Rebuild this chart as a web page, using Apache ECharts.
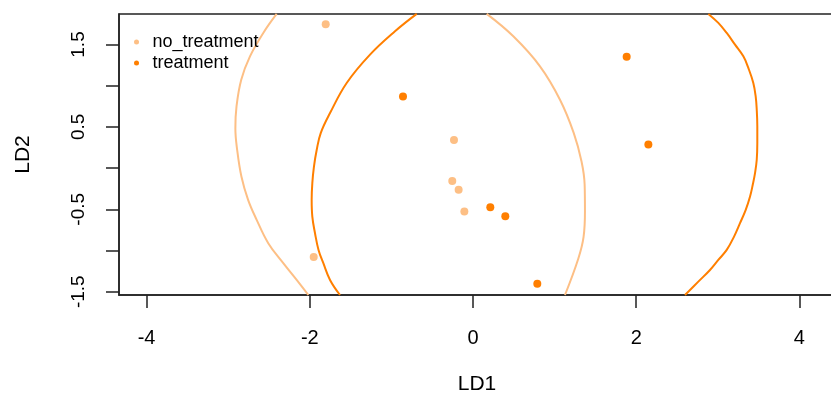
<!DOCTYPE html>
<html>
<head>
<meta charset="utf-8">
<script src="https://cdn.jsdelivr.net/npm/echarts@6/dist/echarts.min.js"></script>
<style>
html,body{margin:0;padding:0;background:#fff;}
#c{width:831px;height:405px;}
</style>
</head>
<body>
<div id="c"></div>
<script>
// ---- data ----
var seriesNames = ['no_treatment', 'treatment'];
var noTreatmentPoints = [[-1.805, 1.745], [-0.233, 0.340], [-0.254, -0.158], [-0.176, -0.264], [-0.106, -0.527], [-1.952, -1.078]];
var treatmentPoints = [[-0.858, 0.870], [0.212, -0.474], [0.396, -0.583], [0.788, -1.402], [1.883, 1.352], [2.149, 0.287]];

// ellipse arcs (visible parts) for each group
var noTreatmentEllipseLeft = [[-2.406, 1.871], [-2.570, 1.640], [-2.733, 1.356], [-2.840, 1.073], [-2.898, 0.748], [-2.912, 0.480], [-2.890, 0.222], [-2.838, -0.102], [-2.756, -0.385], [-2.651, -0.628], [-2.509, -0.911], [-2.325, -1.154], [-2.161, -1.357], [-2.018, -1.540]];
var noTreatmentEllipseRight = [[0.168, 1.871], [0.494, 1.599], [0.821, 1.235], [1.066, 0.830], [1.235, 0.425], [1.330, 0.080], [1.368, -0.200], [1.372, -0.520], [1.355, -0.835], [1.290, -1.100], [1.127, -1.540]];
var treatmentEllipseLeft = [[-0.690, 1.871], [-0.956, 1.660], [-1.262, 1.377], [-1.548, 1.033], [-1.752, 0.668], [-1.866, 0.425], [-1.915, 0.222], [-1.949, 0.019], [-1.969, -0.182], [-1.977, -0.385], [-1.969, -0.588], [-1.936, -0.790], [-1.893, -0.993], [-1.835, -1.151], [-1.752, -1.357], [-1.630, -1.540]];
var treatmentEllipseRight = [[2.884, 1.871], [3.006, 1.762], [3.109, 1.640], [3.211, 1.498], [3.313, 1.356], [3.374, 1.215], [3.435, 1.033], [3.464, 0.870], [3.477, 0.708], [3.484, 0.505], [3.484, 0.304], [3.477, 0.101], [3.456, -0.061], [3.428, -0.203], [3.395, -0.345], [3.342, -0.507], [3.272, -0.668], [3.199, -0.831], [3.109, -0.993], [3.006, -1.114], [2.904, -1.236], [2.761, -1.378], [2.598, -1.540]];

var xTickValues = [-4, -2, 0, 2, 4];
var xTickLabels = ['-4', '-2', '0', '2', '4'];
var yTickValues = [-1.5, -1, -0.5, 0, 0.5, 1, 1.5];
var yLabelValues = [-1.5, -0.5, 0.5, 1.5];
var yTickLabels = ['-1.5', '-0.5', '0.5', '1.5'];
var xAxisTitle = 'LD1';
var yAxisTitle = 'LD2';

// ---- styling ----
var lightColor = '#FDBF85';
var darkColor = '#FF7F00';
var font = 'Liberation Sans, Arial, sans-serif';

function curve(name, data, color) {
  return {
    name: name, type: 'line', data: data, showSymbol: false, symbol: 'none',
    smooth: 0.4, clip: true, silent: true, z: 2,
    lineStyle: { color: color, width: 2 }
  };
}

var chart = echarts.init(document.getElementById('c'), null, { renderer: 'canvas' });
chart.setOption({
  animation: false,
  backgroundColor: '#fff',
  grid: {
    left: 119, top: 14, width: 716, height: 281,
    outerBoundsMode: 'none', containLabel: false,
    show: true, borderColor: '#222', borderWidth: 1.5, backgroundColor: 'transparent'
  },
  legend: {
    data: seriesNames,
    orient: 'vertical', left: 129, top: 28,
    icon: 'circle', itemWidth: 22, itemHeight: 5, itemGap: 3,
    textStyle: { fontFamily: font, fontSize: 18, color: '#000' }
  },
  xAxis: {
    type: 'value', min: -4.338, max: 4.436,
    splitLine: { show: false },
    axisLine: { show: true, onZero: false, lineStyle: { color: '#222', width: 1.5 } },
    axisTick: { show: true, length: 13, customValues: xTickValues, lineStyle: { color: '#222', width: 1.5 } },
    axisLabel: {
      customValues: xTickValues, margin: 33, color: '#000', fontFamily: font, fontSize: 20,
      formatter: function (v) { var i = xTickValues.indexOf(v); return i >= 0 ? xTickLabels[i] : ''; }
    },
    name: xAxisTitle, nameLocation: 'middle', nameGap: 79,
    nameTextStyle: { fontFamily: font, fontSize: 21, color: '#000' }
  },
  yAxis: {
    type: 'value', min: -1.54, max: 1.87,
    splitLine: { show: false },
    axisLine: { show: true, onZero: false, lineStyle: { color: '#222', width: 1.5 } },
    axisTick: { show: true, length: 13, customValues: yTickValues, lineStyle: { color: '#222', width: 1.5 } },
    axisLabel: {
      customValues: yLabelValues, rotate: 90, margin: 31, color: '#000', fontFamily: font, fontSize: 19,
      formatter: function (v) { var i = yLabelValues.indexOf(v); return i >= 0 ? yTickLabels[i] : ''; }
    },
    name: yAxisTitle, nameLocation: 'middle', nameGap: 85, nameRotate: 90,
    nameTextStyle: { fontFamily: font, fontSize: 21, color: '#000' }
  },
  series: [
    curve('ell_no_left', noTreatmentEllipseLeft, lightColor),
    curve('ell_no_right', noTreatmentEllipseRight, lightColor),
    curve('ell_tr_left', treatmentEllipseLeft, darkColor),
    curve('ell_tr_right', treatmentEllipseRight, darkColor),
    {
      name: seriesNames[0], type: 'scatter', data: noTreatmentPoints,
      symbol: 'circle', symbolSize: 8, z: 3,
      itemStyle: { color: lightColor, opacity: 1 }
    },
    {
      name: seriesNames[1], type: 'scatter', data: treatmentPoints,
      symbol: 'circle', symbolSize: 8, z: 3,
      itemStyle: { color: darkColor, opacity: 1 }
    }
  ]
});
</script>
</body>
</html>
